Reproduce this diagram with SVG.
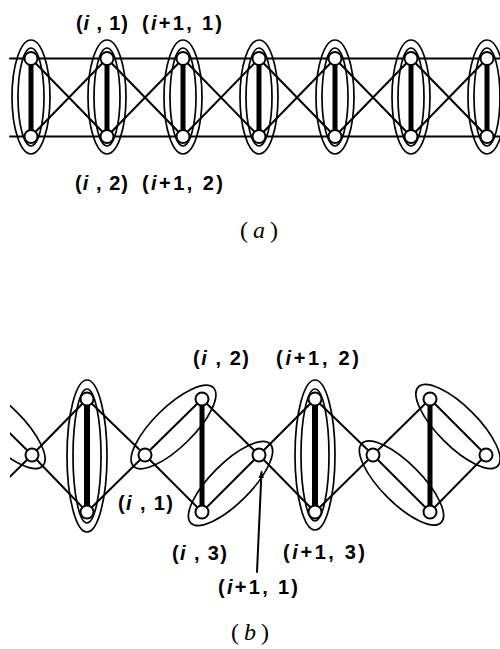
<svg xmlns="http://www.w3.org/2000/svg" width="500" height="649" viewBox="0 0 500 649">
<style>
.ln{stroke:#000;stroke-width:2;fill:none;stroke-linecap:round}
.thk{stroke:#000;stroke-width:5;fill:none}
.thk2{stroke:#000;stroke-width:6;fill:none}
.el{stroke:#000;stroke-width:1.7;fill:none}
.nd{stroke:#000;stroke-width:2;fill:#fff}
.lb{font-family:"Liberation Sans",Arial,sans-serif;font-size:20px;font-weight:bold;fill:#000}
.cap{font-family:"Liberation Serif","Times New Roman",serif;font-size:24px;fill:#000}
</style>
<defs>
<marker id="ah" viewBox="0 0 10 10" refX="9" refY="5" markerWidth="7" markerHeight="10" orient="auto" markerUnits="userSpaceOnUse">
<path d="M0,1 L10,5 L0,9 Z" fill="#000"/>
</marker>
<clipPath id="cb"><rect x="10" y="360" width="490" height="200"/></clipPath>
</defs>

<!-- (a) connectors -->
<g id="a-connectors">
<line class="ln" x1="10" y1="58.5" x2="500" y2="58.5"/>
<line class="ln" x1="10" y1="136.5" x2="500" y2="136.5"/>
<path class="ln" d="M31,58.5 L107,136.5 M31,136.5 L107,58.5 M107,58.5 L183,136.5 M107,136.5 L183,58.5 M183,58.5 L259,136.5 M183,136.5 L259,58.5 M259,58.5 L335,136.5 M259,136.5 L335,58.5 M335,58.5 L411,136.5 M335,136.5 L411,58.5 M411,58.5 L487,136.5 M411,136.5 L487,58.5"/>
<path class="thk" d="M31,58.5 V136.5 M107,58.5 V136.5 M183,58.5 V136.5 M259,58.5 V136.5 M335,58.5 V136.5 M411,58.5 V136.5 M487,58.5 V136.5"/>
</g>

<!-- (a) nodes: column groups -->
<g id="a-col1"><ellipse class="el" cx="31" cy="97" rx="19" ry="57"/><ellipse class="el" cx="31" cy="97" rx="13" ry="49"/><circle class="nd" cx="31" cy="58.5" r="6.5"/><circle class="nd" cx="31" cy="136.5" r="6.5"/></g>
<g id="a-col2"><ellipse class="el" cx="107" cy="97" rx="19" ry="57"/><ellipse class="el" cx="107" cy="97" rx="13" ry="49"/><circle class="nd" cx="107" cy="58.5" r="6.5"/><circle class="nd" cx="107" cy="136.5" r="6.5"/></g>
<g id="a-col3"><ellipse class="el" cx="183" cy="97" rx="19" ry="57"/><ellipse class="el" cx="183" cy="97" rx="13" ry="49"/><circle class="nd" cx="183" cy="58.5" r="6.5"/><circle class="nd" cx="183" cy="136.5" r="6.5"/></g>
<g id="a-col4"><ellipse class="el" cx="259" cy="97" rx="19" ry="57"/><ellipse class="el" cx="259" cy="97" rx="13" ry="49"/><circle class="nd" cx="259" cy="58.5" r="6.5"/><circle class="nd" cx="259" cy="136.5" r="6.5"/></g>
<g id="a-col5"><ellipse class="el" cx="335" cy="97" rx="19" ry="57"/><ellipse class="el" cx="335" cy="97" rx="13" ry="49"/><circle class="nd" cx="335" cy="58.5" r="6.5"/><circle class="nd" cx="335" cy="136.5" r="6.5"/></g>
<g id="a-col6"><ellipse class="el" cx="411" cy="97" rx="19" ry="57"/><ellipse class="el" cx="411" cy="97" rx="13" ry="49"/><circle class="nd" cx="411" cy="58.5" r="6.5"/><circle class="nd" cx="411" cy="136.5" r="6.5"/></g>
<g id="a-col7"><ellipse class="el" cx="487" cy="97" rx="19" ry="57"/><ellipse class="el" cx="487" cy="97" rx="13" ry="49"/><circle class="nd" cx="487" cy="58.5" r="6.5"/><circle class="nd" cx="487" cy="136.5" r="6.5"/></g>

<!-- (a) labels -->
<g id="a-labels">
<text class="lb" x="76" y="30" textLength="52" lengthAdjust="spacing">(<tspan font-style="italic">i</tspan> , 1)</text>
<text class="lb" x="142" y="30" textLength="80" lengthAdjust="spacing">(<tspan font-style="italic">i</tspan>+1, 1)</text>
<text class="lb" x="75" y="190" textLength="53" lengthAdjust="spacing">(<tspan font-style="italic">i</tspan> , 2)</text>
<text class="lb" x="142" y="190" textLength="81" lengthAdjust="spacing">(<tspan font-style="italic">i</tspan>+1, 2)</text>
<text class="cap" x="240" y="238" textLength="38" lengthAdjust="spacing">(<tspan font-style="italic">a</tspan>)</text>
</g>

<!-- (b) connectors -->
<g id="b-connectors" clip-path="url(#cb)">
<path class="ln" d="M-26,398 L32,455 L-26,512 M32,455 L87,399 L145,455 L87,512 Z M145,455 L202,399 L259,455 L202,512 Z M259,455 L315,399 L373,455 L315,512 Z M373,455 L430,399 L486,455 L430,512 Z"/>
<path class="thk2" d="M87,399 V512 M315,399 V512"/>
<path class="thk" d="M202,399 V512 M430,399 V512"/>
</g>

<!-- (b) node groups -->
<g id="b-col0" clip-path="url(#cb)"><ellipse class="el" cx="3" cy="426.5" rx="56" ry="20" transform="rotate(45 3 426.5)"/></g>
<g id="b-col1"><ellipse class="el" cx="87" cy="456" rx="20" ry="76"/><ellipse class="el" cx="87" cy="456" rx="14" ry="67"/><circle class="nd" cx="87" cy="399" r="6.5"/><circle class="nd" cx="87" cy="512" r="6.5"/></g>
<g id="b-col2"><ellipse class="el" cx="173.5" cy="427" rx="56" ry="20" transform="rotate(-44.5 173.5 427)"/><ellipse class="el" cx="230.5" cy="483.5" rx="56" ry="20" transform="rotate(-45 230.5 483.5)"/><circle class="nd" cx="202" cy="399" r="6.5"/><circle class="nd" cx="202" cy="512" r="6.5"/></g>
<g id="b-col3"><ellipse class="el" cx="315" cy="455" rx="20" ry="75"/><ellipse class="el" cx="315" cy="455" rx="14" ry="66"/><circle class="nd" cx="315" cy="399" r="6.5"/><circle class="nd" cx="315" cy="512" r="6.5"/></g>
<g id="b-col4"><ellipse class="el" cx="458" cy="426.5" rx="56" ry="20" transform="rotate(45 458 426.5)"/><ellipse class="el" cx="401.5" cy="483" rx="56" ry="20" transform="rotate(45 401.5 483)"/><circle class="nd" cx="430" cy="399" r="6.5"/><circle class="nd" cx="430" cy="512" r="6.5"/></g>
<g id="b-m0"><circle class="nd" cx="32" cy="455" r="6.5"/></g>
<g id="b-m1"><circle class="nd" cx="145" cy="455" r="6.5"/></g>
<g id="b-m2"><circle class="nd" cx="259" cy="455" r="6.5"/></g>
<g id="b-m3"><circle class="nd" cx="373" cy="455" r="6.5"/></g>
<g id="b-m4"><circle class="nd" cx="486" cy="455" r="6.5"/></g>

<!-- (b) arrow -->
<g id="b-arrow"><line class="ln" x1="257" y1="572" x2="261.5" y2="472" marker-end="url(#ah)"/></g>

<!-- (b) labels -->
<g id="b-labels">
<text class="lb" x="193" y="365" textLength="56" lengthAdjust="spacing">(<tspan font-style="italic">i</tspan> , 2)</text>
<text class="lb" x="276" y="365" textLength="83" lengthAdjust="spacing">(<tspan font-style="italic">i</tspan>+1, 2)</text>
<text class="lb" x="118" y="510" textLength="55" lengthAdjust="spacing">(<tspan font-style="italic">i</tspan> , 1)</text>
<text class="lb" x="172" y="560" textLength="55" lengthAdjust="spacing">(<tspan font-style="italic">i</tspan> , 3)</text>
<text class="lb" x="283" y="559" textLength="82" lengthAdjust="spacing">(<tspan font-style="italic">i</tspan>+1, 3)</text>
<text class="lb" x="218" y="594" textLength="80" lengthAdjust="spacing">(<tspan font-style="italic">i</tspan>+1, 1)</text>
<text class="cap" x="231" y="640" textLength="38" lengthAdjust="spacing">(<tspan font-style="italic">b</tspan>)</text>
</g>
</svg>
